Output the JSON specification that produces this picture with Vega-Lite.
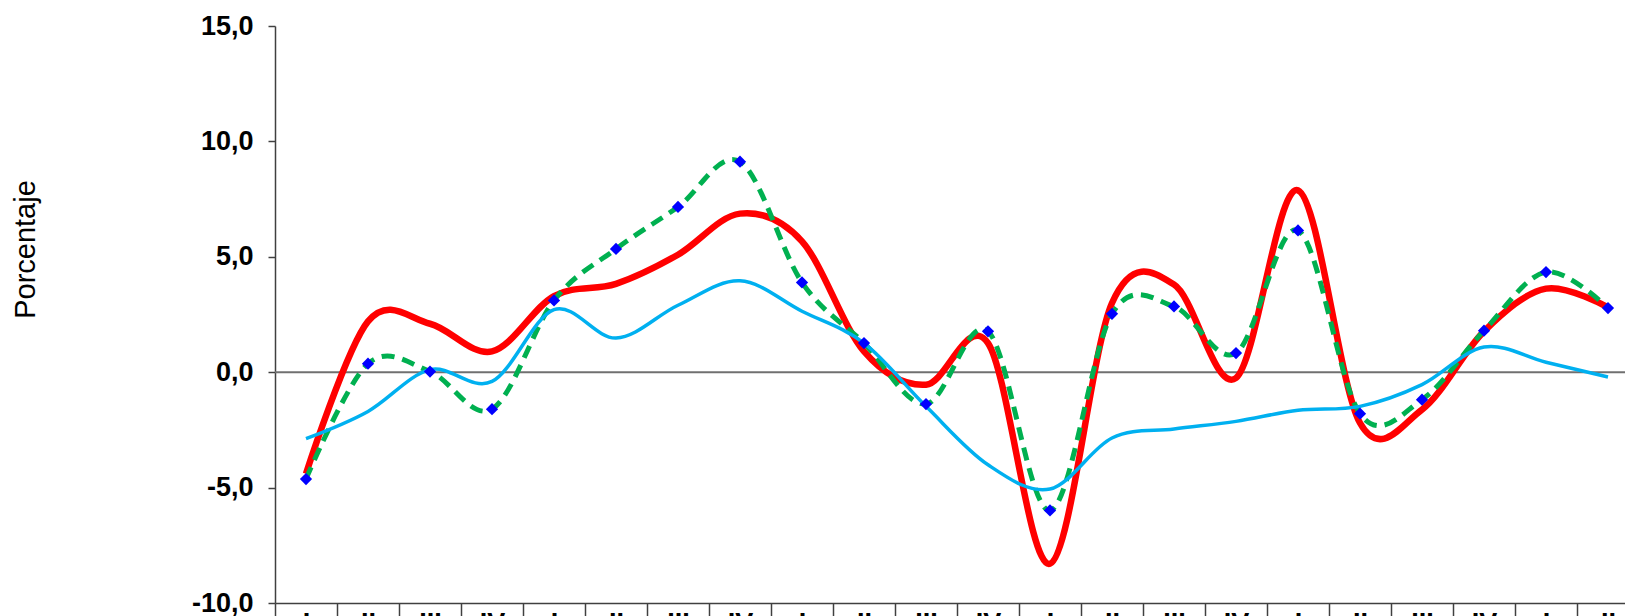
{
  "$schema": "https://vega.github.io/schema/vega-lite/v6.json",
  "autosize": {"type": "none"},
  "width": 1350,
  "height": 577,
  "padding": {"left": 275, "top": 26, "right": 0, "bottom": 13},
  "background": "white",
  "config": {"view": {"stroke": null}},
  "datasets": {
    "serie": [
      {"periodo": "1-I", "rojo": -4.4, "verde": -4.63, "celeste": -2.88},
      {"periodo": "2-II", "rojo": 2.2, "verde": 0.37, "celeste": -1.7},
      {"periodo": "3-III", "rojo": 2.1, "verde": 0.03, "celeste": 0.11},
      {"periodo": "4-IV", "rojo": 0.9, "verde": -1.6, "celeste": -0.4},
      {"periodo": "5-I", "rojo": 3.3, "verde": 3.11, "celeste": 2.71},
      {"periodo": "6-II", "rojo": 3.83, "verde": 5.34, "celeste": 1.48},
      {"periodo": "7-III", "rojo": 5.09, "verde": 7.16, "celeste": 2.9},
      {"periodo": "8-IV", "rojo": 6.87, "verde": 9.12, "celeste": 3.96},
      {"periodo": "9-I", "rojo": 5.67, "verde": 3.89, "celeste": 2.64},
      {"periodo": "10-II", "rojo": 0.9, "verde": 1.26, "celeste": 1.26},
      {"periodo": "11-III", "rojo": -0.54, "verde": -1.38, "celeste": -1.48},
      {"periodo": "12-IV", "rojo": 1.26, "verde": 1.77, "celeste": -4.01},
      {"periodo": "13-I", "rojo": -8.3, "verde": -5.99, "celeste": -5.06},
      {"periodo": "14-II", "rojo": 3.0, "verde": 2.53, "celeste": -2.85},
      {"periodo": "15-III", "rojo": 3.8, "verde": 2.85, "celeste": -2.46},
      {"periodo": "16-IV", "rojo": -0.25, "verde": 0.83, "celeste": -2.13},
      {"periodo": "17-I", "rojo": 7.88, "verde": 6.14, "celeste": -1.65},
      {"periodo": "18-II", "rojo": -2.2, "verde": -1.8, "celeste": -1.48},
      {"periodo": "19-III", "rojo": -1.62, "verde": -1.19, "celeste": -0.54},
      {"periodo": "20-IV", "rojo": 1.77, "verde": 1.8, "celeste": 1.09},
      {"periodo": "21-I", "rojo": 3.62, "verde": 4.34, "celeste": 0.43},
      {"periodo": "22-II", "rojo": 2.81, "verde": 2.78, "celeste": -0.21}
    ],
    "cero": [{"v": 0}]
  },
  "layer": [
    {
      "data": {"name": "cero"},
      "mark": {"type": "rule", "color": "#707070", "strokeWidth": 2},
      "encoding": {
        "y": {"field": "v", "type": "quantitative", "scale": {"domain": [-10, 15], "nice": false, "zero": false},
          "axis": {"title": "Porcentaje", "values": [-10, -5, 0, 5, 10, 15], "labelExpr": "replace(replace(format(datum.value, '.1f'), '.', ','), '\u2212', '-')", "tickSize": 7, "labelPadding": 15, "labelFont": "Liberation Sans", "labelFontWeight": "bold", "labelFontSize": 27, "labelColor": "#000000", "domainColor": "#404040", "tickColor": "#404040", "domainWidth": 1.5, "tickWidth": 1.5, "grid": false, "titleFont": "Liberation Sans", "titleFontSize": 29, "titleFontWeight": "normal", "titleColor": "#000000", "titleX": -250, "titleY": 223, "titleAlign": "center", "titleBaseline": "middle", "titleAngle": -90}}
      }
    },
    {
      "data": {"name": "serie"},
      "mark": {"type": "line", "color": "#FF0000", "strokeWidth": 6.5, "interpolate": "cardinal", "tension": 0},
      "encoding": {
        "x": {"field": "periodo", "type": "ordinal", "sort": null, "bandPosition": 0.5,
          "scale": {"type": "band", "range": [0, 1364], "paddingInner": 0, "paddingOuter": 0},
          "axis": {"title": null, "labelExpr": "split(datum.label, '-')[1]", "tickBand": "extent", "tickSize": 40, "labelPadding": -33, "labelAngle": 0, "labelBaseline": "top", "labelFont": "Liberation Sans", "labelFontWeight": "bold", "labelFontSize": 27, "labelColor": "#000000", "domainColor": "#404040", "tickColor": "#404040", "domainWidth": 1.5, "tickWidth": 1.5, "grid": false, "labelOverlap": false}},
        "y": {"field": "rojo", "type": "quantitative", "title": "Porcentaje"}
      }
    },
    {
      "data": {"name": "serie"},
      "mark": {"type": "line", "color": "#00B050", "strokeWidth": 5, "strokeDash": [13, 8], "interpolate": "cardinal", "tension": 0},
      "encoding": {
        "x": {"field": "periodo", "type": "ordinal", "sort": null, "bandPosition": 0.5},
        "y": {"field": "verde", "type": "quantitative", "title": "Porcentaje"}
      }
    },
    {
      "data": {"name": "serie"},
      "mark": {"type": "line", "color": "#00B0F0", "strokeWidth": 3.5, "interpolate": "cardinal", "tension": 0},
      "encoding": {
        "x": {"field": "periodo", "type": "ordinal", "sort": null, "bandPosition": 0.5},
        "y": {"field": "celeste", "type": "quantitative", "title": "Porcentaje"}
      }
    },
    {
      "data": {"name": "serie"},
      "mark": {"type": "point", "shape": "diamond", "filled": true, "color": "#0000FF", "size": 150, "opacity": 1},
      "encoding": {
        "x": {"field": "periodo", "type": "ordinal", "sort": null, "bandPosition": 0.5},
        "y": {"field": "verde", "type": "quantitative", "title": "Porcentaje"}
      }
    }
  ]
}
